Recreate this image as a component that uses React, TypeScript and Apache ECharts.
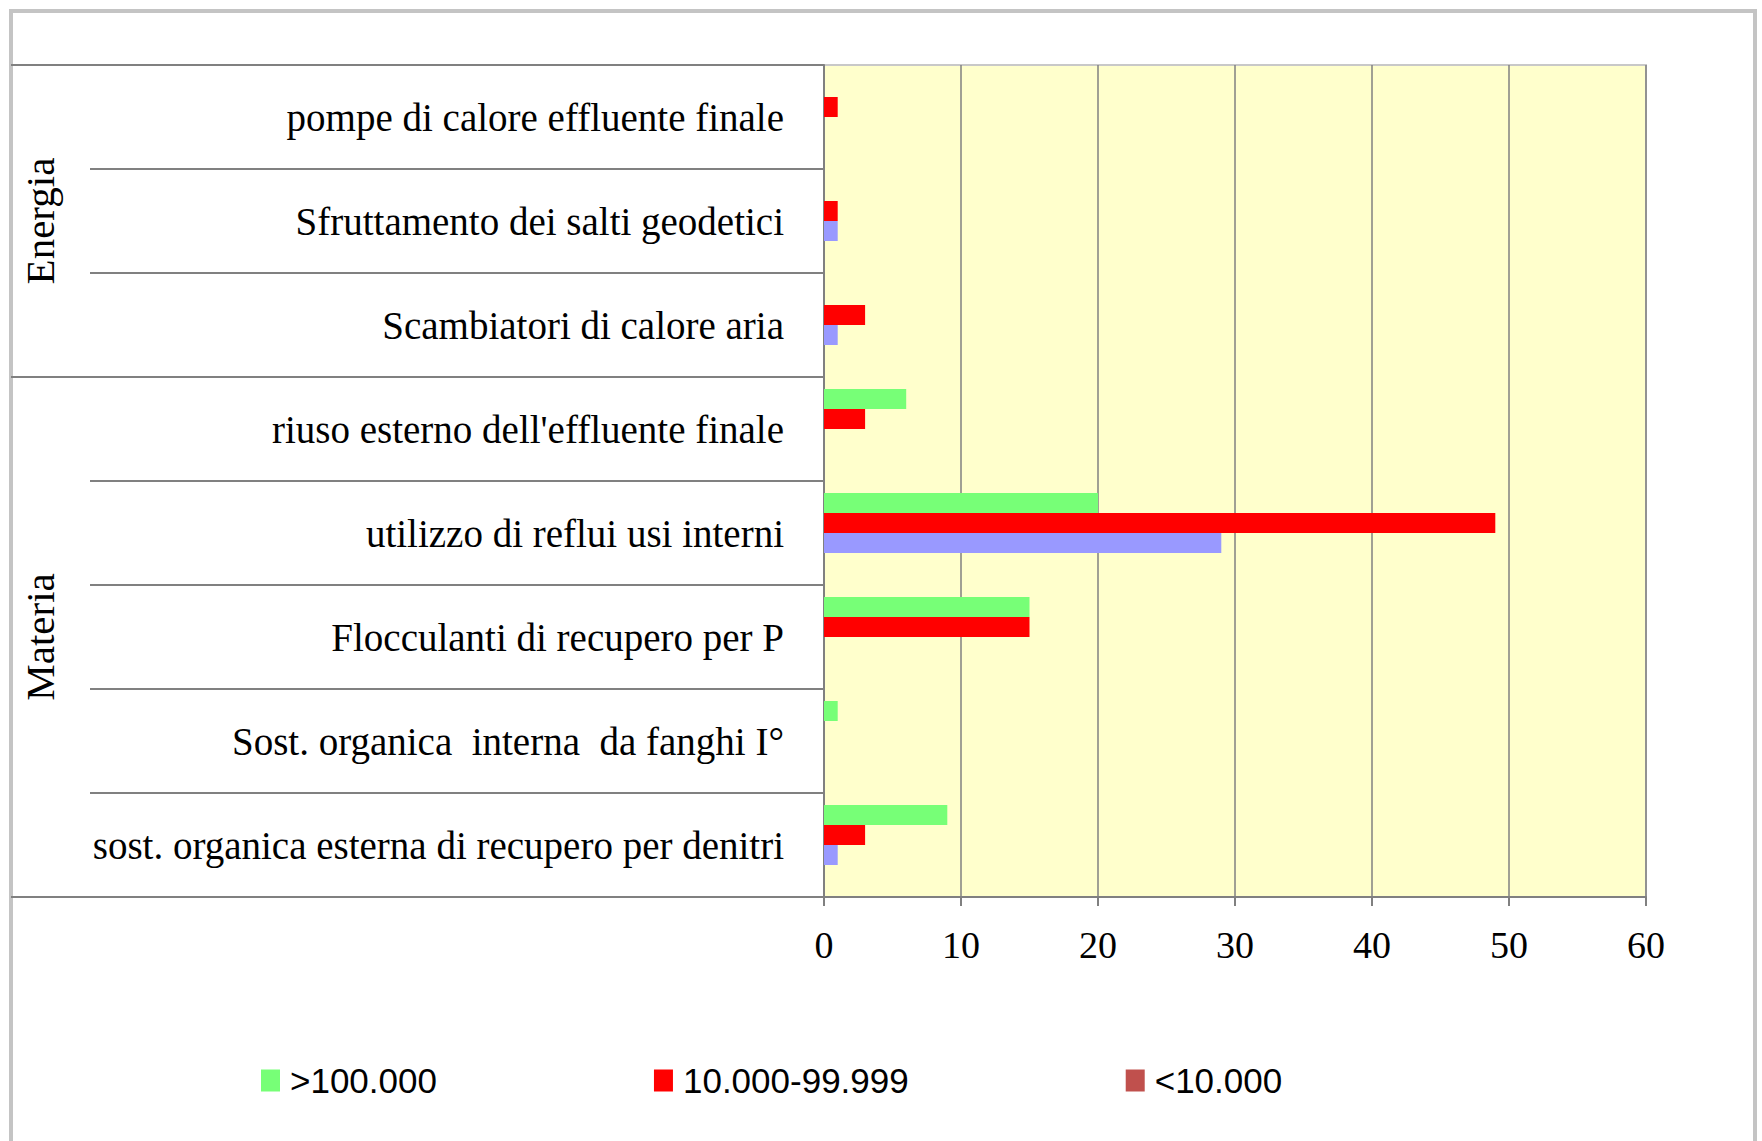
import React, { useEffect, useRef } from 'react';
import * as echarts from 'echarts';

const categories = [
  'pompe di calore effluente finale',
  'Sfruttamento dei salti geodetici',
  'Scambiatori di calore aria',
  "riuso esterno dell'effluente finale",
  'utilizzo di reflui usi interni',
  'Flocculanti di recupero per P',
  'Sost. organica  interna  da fanghi I°',
  'sost. organica esterna di recupero per denitri',
];
const groupNames = ['Energia', 'Energia', 'Energia', 'Materia', 'Materia', 'Materia', 'Materia', 'Materia'];
const groupStartIndex = [0, 3];
const groupLabelIndex = [1, 5];

const seriesNames = ['>100.000', '10.000-99.999', 'n.d.', '<10.000'];
const over100k = [0, 0, 0, 6, 20, 15, 1, 9];
const from10kTo99k = [1, 1, 3, 3, 49, 15, 0, 3];
const unlabelled = [0, 1, 1, 0, 29, 0, 0, 1];
const under10k = [0, 0, 0, 0, 0, 0, 0, 0];
const seriesColors = ['#77FF77', '#FF0000', '#9999FF', '#C0504D'];

const xMin = 0;
const xMax = 60;
const xInterval = 10;

const SERIF = "'Liberation Serif', 'Times New Roman', serif";
const SANS = "'Liberation Sans Narrow', 'Arial Narrow', 'Liberation Sans', sans-serif";

export default function App() {
  const ref = useRef<HTMLDivElement>(null);
  useEffect(() => {
    if (!ref.current) return;
    const chart = echarts.init(ref.current, undefined, { renderer: 'svg' });
    const allData = [over100k, from10kTo99k, unlabelled, under10k];
    chart.setOption({
      animation: false,
      backgroundColor: '#FFFFFF',
      graphic: [
        {
          type: 'rect',
          shape: { x: 11, y: 11, width: 1744, height: 1160 },
          style: { fill: 'none', stroke: '#C4C4C4', lineWidth: 4 },
          silent: true,
        },
      ],
      grid: {
        left: 824,
        right: 116,
        top: 65,
        bottom: 244,
        show: true,
        backgroundColor: '#FFFFCC',
        borderColor: '#C8C8C8',
        borderWidth: 2,
      },
      legend: {
        data: [seriesNames[0], seriesNames[1], seriesNames[3]],
        left: 256,
        top: 1058,
        icon: 'rect',
        itemWidth: 19,
        itemHeight: 22,
        itemGap: 217,
        textStyle: {
          fontFamily: SANS,
          fontSize: 35,
          color: '#000000',
          padding: [0, 0, 0, 5],
        },
      },
      xAxis: {
        type: 'value',
        min: xMin,
        max: xMax,
        interval: xInterval,
        axisLine: { show: true, lineStyle: { color: '#808080', width: 2 } },
        axisTick: { show: true, length: 9, lineStyle: { color: '#808080', width: 2 } },
        axisLabel: { fontFamily: SERIF, fontSize: 38, color: '#000000', margin: 29 },
        splitLine: { show: true, lineStyle: { color: '#808080', width: 1.5 } },
      },
      yAxis: [
        {
          type: 'category',
          data: categories,
          inverse: true,
          axisLine: { show: true, lineStyle: { color: '#808080', width: 2 } },
          axisTick: { show: true, interval: 0, length: 734, lineStyle: { color: '#808080', width: 2 } },
          axisLabel: { interval: 0, fontFamily: SERIF, fontSize: 39, color: '#000000', margin: 40 },
          splitLine: { show: false },
        },
        {
          type: 'category',
          data: categories,
          inverse: true,
          position: 'left',
          axisLine: { show: false },
          axisTick: {
            show: true,
            length: 813,
            interval: (i: number) => groupStartIndex.includes(i),
            lineStyle: { color: '#808080', width: 2 },
          },
          axisLabel: {
            interval: (i: number) => groupLabelIndex.includes(i),
            formatter: (_v: string, i: number) => groupNames[i],
            rotate: 90,
            margin: 764,
            fontFamily: SERIF,
            fontSize: 41,
            color: '#000000',
          },
          splitLine: { show: false },
        },
      ],
      series: seriesNames.map((name, k) => ({
        name,
        type: 'bar',
        yAxisIndex: 0,
        data: allData[k],
        barWidth: 20,
        barGap: '0%',
        itemStyle: { color: seriesColors[k] },
      })),
    });
    return () => chart.dispose();
  }, []);
  return (
    <div
      ref={ref}
      style={{ position: 'fixed', left: 0, top: 0, width: 1762, height: 1141, background: '#FFFFFF' }}
    />
  );
}
